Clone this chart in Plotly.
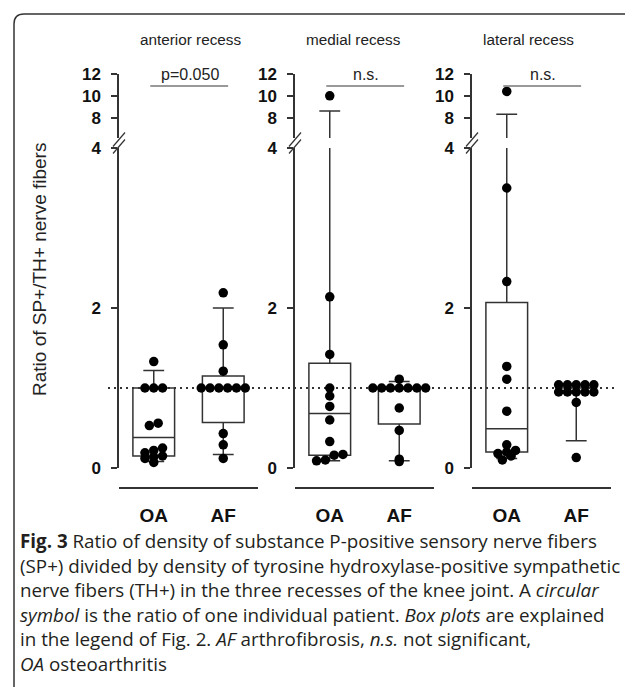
import plotly.graph_objects as go

W, H = 633, 687

# ---------------- data ----------------
panel_titles = ["anterior recess", "medial recess", "lateral recess"]
group_labels = ["OA", "AF"]
sig_labels = ["p=0.050", "n.s.", "n.s."]
lower_ticks = [0, 2, 4]
upper_ticks = [8, 10, 12]
sig_level = 10.9
reference_ratio = 1.0

anterior_oa = [1.33, 1.00, 1.00, 1.00, 0.56, 0.53, 0.25, 0.22, 0.19, 0.15, 0.14, 0.12, 0.07]
anterior_af = [2.19, 1.54, 1.21, 1.00, 1.00, 1.00, 1.00, 1.00, 1.00, 0.43, 0.29, 0.12]
medial_oa = [10.0, 2.14, 1.42, 1.00, 0.90, 0.77, 0.60, 0.33, 0.17, 0.16, 0.10, 0.09]
medial_af = [1.11, 1.00, 1.00, 1.00, 1.00, 1.00, 1.00, 1.00, 0.75, 0.47, 0.11, 0.08]
lateral_oa = [10.4, 3.50, 2.33, 1.27, 1.11, 0.71, 0.29, 0.22, 0.20, 0.18, 0.15, 0.10]
lateral_af = [1.04, 1.04, 1.04, 1.04, 1.04, 0.95, 0.95, 0.95, 0.95, 0.95, 0.82, 0.13]

# box statistics per panel: [OA, AF]
box_low = [[0.08, 0.17], [0.09, 0.09], [0.12, 0.34]]
box_q1 = [[0.15, 0.57], [0.16, 0.55], [0.20, 1.00]]
box_median = [[0.38, 1.00], [0.68, 1.00], [0.49, 1.00]]
box_q3 = [[1.00, 1.15], [1.31, 1.00], [2.07, 1.00]]
box_high = [[1.22, 2.00], [8.60, 1.08], [8.30, 1.00]]

caption_lines = [
    "<b>Fig. 3</b> Ratio of density of substance P-positive sensory nerve fibers",
    "(SP+) divided by density of tyrosine hydroxylase-positive sympathetic",
    "nerve fibers (TH+) in the three recesses of the knee joint. A <i>circular</i>",
    "<i>symbol</i> is the ratio of one individual patient. <i>Box plots</i> are explained",
    "in the legend of Fig. 2. <i>AF</i> arthrofibrosis, <i>n.s.</i> not significant,",
    "<i>OA</i> osteoarthritis",
]

panel_values = [[anterior_oa, anterior_af], [medial_oa, medial_af], [lateral_oa, lateral_af]]

# ---------------- layout helpers ----------------
PAGE_OFFSET = 8  # the html page body margin shifts the figure by 8 px


def fx(px):
    return (px - PAGE_OFFSET) / W


def fy(py):
    return 1 - (py - PAGE_OFFSET) / H


AX_COLOR = "#333333"
CHART_FONT = "Arial, Liberation Sans, Helvetica, sans-serif"
panel_left = [119, 295, 472]
panel_w = 139
lower_dom = [fy(468), fy(148)]
upper_dom = [fy(138), fy(74)]
lower_range = [0, 4]
upper_range = [6.13, 12]
x_px_per_unit = panel_w / 2.0
y_px_per_unit = (468 - 148) / 4.0
DOT = 9.5


def swarm_offsets(vals, bin_h=7.0, gap=8.8):
    """GraphPad-like scatter: values in the same pixel band are spread
    horizontally, centred on the category."""
    bins = {}
    for i, v in enumerate(vals):
        b = int((v * y_px_per_unit) // bin_h)
        bins.setdefault(b, []).append(i)
    offs = [0.0] * len(vals)
    for idx in bins.values():
        idx = sorted(idx, key=lambda k: vals[k])
        n = len(idx)
        for k, i in enumerate(idx):
            offs[i] = (k - (n - 1) / 2.0) * gap / x_px_per_unit
    return offs


fig = go.Figure()
layout = {}
shapes = []
annotations = []

for p in range(3):
    xn = "x" if p == 0 else f"x{p + 1}"
    yl = "y" if p == 0 else f"y{p + 1}"
    yu = f"y{p + 4}"
    xkey = "xaxis" if p == 0 else f"xaxis{p + 1}"
    ylkey = "yaxis" if p == 0 else f"yaxis{p + 1}"
    yukey = f"yaxis{p + 4}"

    layout[xkey] = dict(
        domain=[fx(panel_left[p]), fx(panel_left[p] + panel_w)],
        range=[-0.5, 1.5], anchor="free", position=fy(488),
        showline=True, linecolor=AX_COLOR, linewidth=1.5,
        tickvals=[0, 1], ticktext=group_labels,
        ticks="outside", ticklen=10, tickcolor="rgba(0,0,0,0)",
        tickfont=dict(family=CHART_FONT, size=19, color="#111", weight="bold"),
        showgrid=False, zeroline=False, fixedrange=True, automargin=False,
    )
    common_y = dict(
        anchor=xn, showline=True, linecolor=AX_COLOR, linewidth=1.5,
        ticks="outside", ticklen=6, tickwidth=1.5, tickcolor=AX_COLOR,
        ticklabelstandoff=7, automargin=False,
        tickfont=dict(family=CHART_FONT, size=17, color="#111", weight="bold"),
        showgrid=False, zeroline=False, fixedrange=True,
    )
    layout[ylkey] = dict(domain=lower_dom, range=lower_range, tickvals=lower_ticks, **common_y)
    layout[yukey] = dict(domain=upper_dom, range=upper_range, tickvals=upper_ticks, **common_y)

    for g in range(2):
        vals = panel_values[p][g]
        offs = swarm_offsets(vals)
        for ya in (yl, yu):
            fig.add_trace(go.Box(
                x=[g], q1=[box_q1[p][g]], median=[box_median[p][g]], q3=[box_q3[p][g]],
                lowerfence=[box_low[p][g]], upperfence=[box_high[p][g]],
                width=0.6, whiskerwidth=0.5, boxpoints=False,
                line=dict(color=AX_COLOR, width=1.5), fillcolor="rgba(0,0,0,0)",
                xaxis=xn, yaxis=ya, showlegend=False, hoverinfo="skip",
            ))
            fig.add_trace(go.Scatter(
                x=[g + o for o in offs], y=vals, mode="markers",
                marker=dict(color="black", size=DOT, line=dict(width=0)),
                xaxis=xn, yaxis=ya, showlegend=False, hoverinfo="skip",
            ))

    # significance bar and label
    shapes.append(dict(type="line", xref=xn, yref=yu, x0=-0.05, x1=1.07,
                       y0=sig_level, y1=sig_level, line=dict(color="#777", width=1.3)))
    annotations.append(dict(xref=xn, yref=yu, x=0.52, y=sig_level, text=sig_labels[p],
                            showarrow=False, yanchor="bottom", yshift=1,
                            font=dict(family=CHART_FONT, size=16, color="#222")))
    # axis break marks
    ax_px = panel_left[p]
    for c in (139.5, 146.5):
        shapes.append(dict(type="line", xref="paper", yref="paper",
                           x0=fx(ax_px - 6), y0=fy(c + 7), x1=fx(ax_px + 6), y1=fy(c - 7),
                           line=dict(color=AX_COLOR, width=1.2)))

# panel titles
for t, cx in zip(panel_titles, [191, 353, 528]):
    annotations.append(dict(xref="paper", yref="paper", x=fx(cx), y=fy(40), text=t,
                            showarrow=False, xanchor="center", yanchor="middle",
                            font=dict(family=CHART_FONT, size=15.3, color="#222")))

# y axis title
annotations.append(dict(xref="paper", yref="paper", x=fx(40), y=fy(270),
                        text="Ratio of SP+/TH+ nerve fibers", textangle=-90,
                        showarrow=False, xanchor="center", yanchor="middle",
                        font=dict(family=CHART_FONT, size=19, color="#222")))

# dotted reference line at ratio 1
shapes.append(dict(type="line", xref="paper", yref="y", x0=fx(108), x1=fx(617),
                   y0=reference_ratio, y1=reference_ratio, layer="below",
                   line=dict(color=AX_COLOR, width=1.8, dash="2px,4px")))

# caption
for i, line in enumerate(caption_lines):
    annotations.append(dict(xref="paper", yref="paper", x=fx(18), y=fy(541 + i * 24.5),
                            text=line, showarrow=False, xanchor="left", yanchor="middle",
                            align="left",
                            font=dict(family="Open Sans, Noto Sans, sans-serif", size=18.8,
                                      color="#231f20")))

# rounded frame
xl, yt, r = 14, 14, 10
shapes.append(dict(type="path", xref="paper", yref="paper",
                   path=(f"M {fx(xl)},{fy(H + 30)} L {fx(xl)},{fy(yt + r)} "
                         f"Q {fx(xl)},{fy(yt)} {fx(xl + r)},{fy(yt)} L {fx(W + 30)},{fy(yt)}"),
                   line=dict(color=AX_COLOR, width=1.5)))

fig.update_layout(
    width=W, height=H, margin=dict(l=0, r=0, t=0, b=0, pad=0, autoexpand=False),
    paper_bgcolor="white", plot_bgcolor="rgba(0,0,0,0)",
    shapes=shapes, annotations=annotations, showlegend=False, **layout,
)

fig.write_html("out.html")
